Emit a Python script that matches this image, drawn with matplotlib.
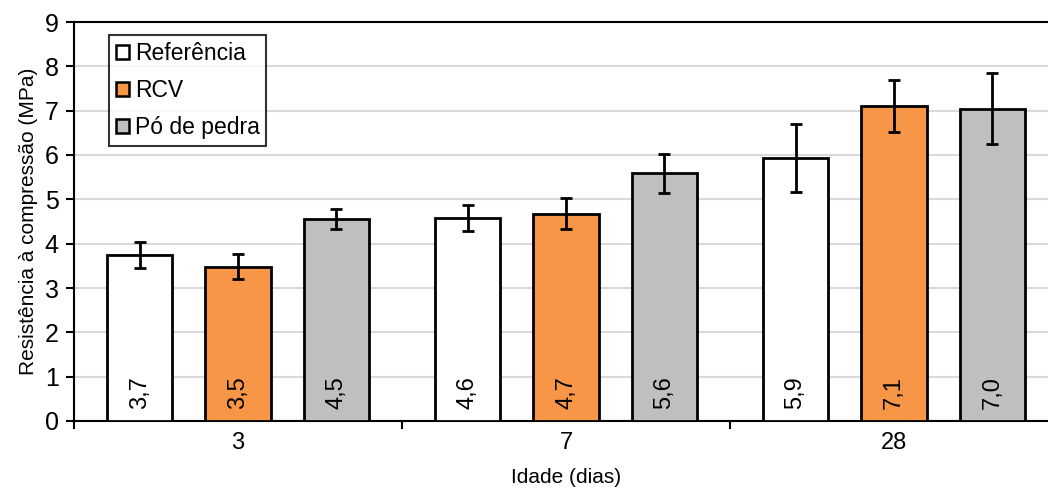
import numpy as np
import matplotlib
matplotlib.use("Agg")
import matplotlib.pyplot as plt
from matplotlib.ticker import MultipleLocator

plt.rcParams["font.family"] = ["Liberation Sans", "DejaVu Sans"]

ages = ["3", "7", "28"]
series = ["Referência", "RCV", "Pó de pedra"]
colors = ["#ffffff", "#f79646", "#bfbfbf"]

ref_vals = [3.75, 4.58, 5.93]
rcv_vals = [3.48, 4.68, 7.10]
po_vals = [4.55, 5.59, 7.04]
ref_err = [0.29, 0.29, 0.76]
rcv_err = [0.28, 0.34, 0.59]
po_err = [0.23, 0.44, 0.80]
ref_lbl = ["3,7", "4,6", "5,9"]
rcv_lbl = ["3,5", "4,7", "7,1"]
po_lbl = ["4,5", "5,6", "7,0"]

values = [ref_vals, rcv_vals, po_vals]
errors = [ref_err, rcv_err, po_err]
labels = [ref_lbl, rcv_lbl, po_lbl]

fig = plt.figure(figsize=(10.48, 4.88), dpi=100)
ax = fig.add_axes([74 / 1048, 67 / 488, 984 / 1048, 399 / 488])

centers = np.arange(len(ages)) + 0.5
offsets = [-0.3, 0.0, 0.3]
width = 0.2

for k in range(3):
    x = centers + offsets[k]
    ax.bar(x, values[k], width=width, color=colors[k], edgecolor="black",
           linewidth=2, label=series[k], zorder=3)
    ax.errorbar(x, values[k], yerr=errors[k], fmt="none", ecolor="black",
                elinewidth=2, capsize=4, capthick=2, zorder=4)
    for xi, t in zip(x, labels[k]):
        ax.text(xi, 0.28, t, rotation=90, ha="center", va="bottom",
                fontsize=17, zorder=5)

ax.set_xlim(0, 3)
ax.set_ylim(0, 9)
ax.yaxis.set_major_locator(MultipleLocator(1))
ax.grid(axis="y", color="#d9d9d9", linewidth=1.5, zorder=0)
ax.set_xticks(centers)
ax.set_xticklabels(ages)
ax.set_xticks([0, 1, 2, 3], minor=True)
ax.tick_params(axis="x", which="major", length=0, labelsize=17, pad=8)
ax.tick_params(axis="x", which="minor", length=6, width=1.5, direction="out")
ax.tick_params(axis="y", length=6, width=1.5, labelsize=18, pad=5)
for side in ["left", "bottom", "top"]:
    ax.spines[side].set_linewidth(1.5)
ax.spines["right"].set_visible(False)

ax.set_ylabel("Resistência à compressão (MPa)", fontsize=15, labelpad=5)
ax.set_xlabel("Idade (dias)", fontsize=15, labelpad=10)

leg = ax.legend(loc="upper left", bbox_to_anchor=(0.036, 0.967), fontsize=16.5,
                handlelength=0.55, handleheight=0.55, handletextpad=0.25,
                borderpad=0.3, labelspacing=0.62, borderaxespad=0,
                frameon=True, fancybox=False, edgecolor="black")
leg.get_frame().set_linewidth(1.5)
for h in leg.legend_handles:
    h.set_linewidth(1.8)

fig.savefig("out.png", dpi=100)
